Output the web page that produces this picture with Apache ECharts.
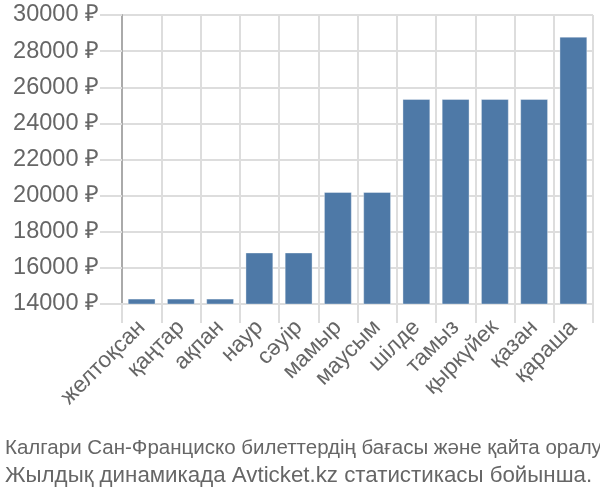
<!DOCTYPE html>
<html><head><meta charset="utf-8">
<script src="https://cdn.jsdelivr.net/npm/echarts@6/dist/echarts.min.js"></script>
<style>html,body{margin:0;padding:0;background:#fff}#c{width:600px;height:500px}</style>
</head><body><div id="c"></div>
<script>
const categories = ['желтоқсан','қаңтар','ақпан','наур','сәуір','мамыр','маусым','шілде','тамыз','қыркүйек','қазан','қараша'];
const prices = [14300, 14300, 14300, 16850, 16850, 20200, 20200, 25350, 25350, 25350, 25350, 28800];
const titleLines = ['Калгари Сан-Франциско билеттердің бағасы және қайта оралу','Жылдық динамикада Avticket.kz статистикасы бойынша.'];
const yMin = 14000, yMax = 30000, yStep = 2000;

const chart = echarts.init(document.getElementById('c'));
chart.setOption({
  animation: false,
  textStyle: {fontFamily: 'Liberation Sans'},
  title: {
    text: '{a|' + titleLines[0] + '}\n{b|' + titleLines[1] + '}', left: 0, top: 430,
    textStyle: {
      fontSize: 20.5, fontWeight: 'normal', color: '#666', lineHeight: 27, fontFamily: 'Liberation Sans',
      rich: {
        a: {fontSize: 20.5, color: '#666', lineHeight: 27, fontFamily: 'Liberation Sans'},
        b: {fontSize: 22.3, color: '#666', lineHeight: 27, fontFamily: 'Liberation Sans'}
      }
    }
  },
  grid: {left: 122, right: 7, top: 15, bottom: 196, containLabel: false},
  xAxis: {
    type: 'category', data: categories,
    axisLine: {show: true, lineStyle: {color: '#ddd', width: 2}},
    axisTick: {show: true, length: 19, lineStyle: {color: '#ddd', width: 2}},
    splitLine: {show: true, lineStyle: {color: '#ddd', width: 2}},
    axisLabel: {rotate: 45, fontSize: 22.5, color: '#666', margin: 20, interval: 0}
  },
  yAxis: {
    type: 'value', min: yMin, max: yMax, interval: yStep,
    axisLine: {show: true, lineStyle: {color: '#aaa', width: 2}},
    axisTick: {show: true, length: 22, lineStyle: {color: '#ddd', width: 2}},
    splitLine: {show: true, lineStyle: {color: '#ddd', width: 2}},
    axisLabel: {fontSize: 23.5, color: '#666', margin: 23, formatter: v => v + ' ₽'}
  },
  series: [{
    type: 'bar', data: prices, barCategoryGap: '29%',
    itemStyle: {color: '#4e79a7', borderColor: 'rgba(255,255,255,0.35)', borderWidth: 1}
  }]
});
</script></body></html>
